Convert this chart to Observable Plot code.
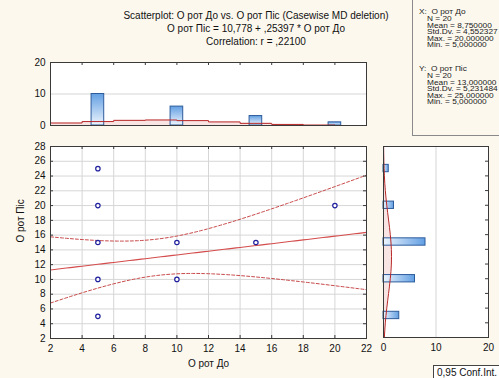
<!DOCTYPE html>
<html><head><meta charset="utf-8">
<script src="https://cdn.jsdelivr.net/npm/d3@7"></script>
<script src="https://cdn.jsdelivr.net/npm/@observablehq/plot@0.6"></script>
<style>
html,body{margin:0;padding:0;background:#fcf8ee;}
#root{position:relative;width:499px;height:378px;overflow:hidden;font-family:"Liberation Sans",Arial,sans-serif;background:#fcf8ee;color:#111;}
.abs{position:absolute;}
#title{left:0;top:9px;width:512px;text-align:center;font-size:10px;line-height:13px;}
#statsBox{left:412px;top:-1px;width:100px;height:137px;border:1px solid #8a8a8a;box-sizing:border-box;}
.stats{position:absolute;left:419px;font-size:8.3px;line-height:8.4px;transform:scaleY(0.78);transform-origin:0 0;white-space:nowrap;color:#222;}
.stats .ind{padding-left:8px;}
#ci{left:433px;top:365px;width:80px;height:20px;border:1px solid #444;box-sizing:border-box;background:#fff;font-size:10px;padding:1px 0 0 3px;white-space:nowrap;}
</style></head><body><div id="root">
<div id="title" class="abs"></div>
<div id="statsBox" class="abs"></div>
<div id="statsX" class="stats" style="top:9px"></div>
<div id="statsY" class="stats" style="top:66px"></div>
<div id="ci" class="abs"></div>
</div>
<script>
// ---- data (20 observations) ----
const obsX = [5,5,5,5,5,5,5,5,5,5,10,10,10,10,10,10,15,15,15,20];
const obsY = [25,20,15,15,15,15,10,5,5,5,15,10,10,10,10,10,15,15,15,20];
const xTicks = [2,4,6,8,10,12,14,16,18,20,22];
const yTicks = [2,4,6,8,10,12,14,16,18,20,22,24,26,28];
const countTicks = [0,10,20];
const xLabel = "О рот До";
const yLabel = "О рот Піс";
const titleLines = [
  "Scatterplot: О рот До vs. О рот Піс (Casewise MD deletion)",
  "О рот Піс = 10,778 + ,25397 * О рот До",
  "Correlation: r = ,22100"
];
const statsXLines = ["X:&nbsp; О рот До","N = 20","Mean = 8,750000","Std.Dv. = 4,552327","Max. = 20,000000","Min. = 5,000000"];
const statsYLines = ["Y:&nbsp; О рот Піс","N = 20","Mean = 13,000000","Std.Dv. = 5,231484","Max. = 25,000000","Min. = 5,000000"];
const ciLabel = "0,95 Conf.Int.";

// ---- text ----
document.getElementById("title").innerHTML = titleLines.map(t => `<div>${t}</div>`).join("");
document.getElementById("statsX").innerHTML = statsXLines.map((t,i) => `<div class="${i? 'ind':''}">${t}</div>`).join("");
document.getElementById("statsY").innerHTML = statsYLines.map((t,i) => `<div class="${i? 'ind':''}">${t}</div>`).join("");
document.getElementById("ci").textContent = ciLabel;

// ---- statistics derived from the data ----
const n = obsX.length;
const mx = d3.mean(obsX), my = d3.mean(obsY);
const sdx = d3.deviation(obsX), sdy = d3.deviation(obsY);
const sxx = d3.sum(obsX, v => (v - mx) ** 2);
const sxy = d3.sum(obsX, (v, i) => (v - mx) * (obsY[i] - my));
const slope = sxy / sxx, intercept = my - slope * mx;
const sres = Math.sqrt(d3.sum(obsX, (v, i) => (obsY[i] - intercept - slope * v) ** 2) / (n - 2));
const tcrit = 2.100922; // t(0.975, 18)
const band = d3.range(2, 22.001, 0.25).map(x => {
  const fit = intercept + slope * x;
  const se = sres * Math.sqrt(1 / n + (x - mx) ** 2 / sxx);
  return {x, fit, lo: fit - tcrit * se, hi: fit + tcrit * se};
});
// unique positions (overlapping observations draw as one marker)
const points = d3.groups(obsX.map((x, i) => ({x, y: obsY[i]})), d => d.x + "|" + d.y).map(([, g]) => g[0]);
const histX = d3.rollups(obsX, v => v.length, d => d).map(([v, c]) => ({v, c}));
const histY = d3.rollups(obsY, v => v.length, d => d).map(([v, c]) => ({v, c}));
const pdf = (v, m, s) => Math.exp(-0.5 * ((v - m) / s) ** 2) / (s * Math.sqrt(2 * Math.PI));
const normX = d3.range(2, 20.001, 2).map(e => ({v: e, c: n * pdf(e < 20 ? e + 1 : 19, mx, sdx)}));
const normY = d3.range(2, 28.001, 1).map(v => ({v, c: n * pdf(v, my, sdy)}));

const font = {fontFamily: "Liberation Sans, Arial, sans-serif", fontSize: "10px", background: "transparent", color: "#111", overflow: "visible"};
const gridC = "#d6d6d6", frameC = "#3a3a3a";

function addGrad(svg, id, horizontal) {
  const ns = "http://www.w3.org/2000/svg";
  const defs = document.createElementNS(ns, "defs");
  const g = document.createElementNS(ns, "linearGradient");
  g.setAttribute("id", id);
  g.setAttribute("x1", 0); g.setAttribute("y1", horizontal ? 0 : 1);
  g.setAttribute("x2", horizontal ? 1 : 0); g.setAttribute("y2", 0);
  [["0", "#eef5fd"], ["1", "#629fe3"]].forEach(([o, c]) => {
    const s = document.createElementNS(ns, "stop");
    s.setAttribute("offset", o); s.setAttribute("stop-color", c); g.appendChild(s);
  });
  defs.appendChild(g); svg.insertBefore(defs, svg.firstChild);
}

// ---- main scatter ----
const W = 380, H = 248, ML = 50, MR = 14, MT = 16, MB = 40;
const pxX = (W - ML - MR) / 20, pxY = (H - MT - MB) / 26;
const tx = 3 / pxX, ty = 3 / pxY;
const mainPlot = Plot.plot({
  width: W, height: H, marginLeft: ML, marginRight: MR, marginTop: MT, marginBottom: MB,
  style: font,
  x: {domain: [2, 22], axis: null}, y: {domain: [2, 28], axis: null},
  marks: [
    Plot.frame({fill: "white"}),
    Plot.gridX(xTicks.slice(1, -1), {stroke: gridC, strokeOpacity: 1}),
    Plot.gridY(yTicks.slice(1, -1), {stroke: gridC, strokeOpacity: 1}),
    Plot.line(band, {x: "x", y: "hi", stroke: "#c84a4a", strokeWidth: 1, strokeDasharray: "3,2"}),
    Plot.line(band, {x: "x", y: "lo", stroke: "#c84a4a", strokeWidth: 1, strokeDasharray: "3,2"}),
    Plot.line(band, {x: "x", y: "fit", stroke: "#d44c4c", strokeWidth: 1.1}),
    Plot.dot(points, {x: "x", y: "y", r: 2.2, stroke: "#1f1f9e", fill: "white", strokeWidth: 1.2}),
    Plot.ruleX(xTicks, {x: d => d, y1: 28 - ty, y2: 28, stroke: frameC}),
    Plot.ruleX(xTicks, {x: d => d, y1: 2, y2: 2 + ty, stroke: frameC}),
    Plot.ruleY(yTicks, {y: d => d, x1: 22 - tx, x2: 22, stroke: frameC}),
    Plot.ruleY(yTicks, {y: d => d, x1: 2, x2: 2 + tx, stroke: frameC}),
    Plot.axisX({ticks: xTicks, tickSize: 0, tickPadding: 6, label: null}),
    Plot.axisY({ticks: yTicks, tickSize: 0, tickPadding: 5, label: null}),
    Plot.text([xLabel], {text: d => d, frameAnchor: "bottom", dy: 28, fontSize: 10}),
    Plot.text([yLabel], {text: d => d, frameAnchor: "left", dx: -30, rotate: -90, fontSize: 10}),
    Plot.frame({stroke: frameC})
  ]
});
mainPlot.style.position = "absolute"; mainPlot.style.left = "0px"; mainPlot.style.top = "130px";

// ---- top histogram ----
const topHist = Plot.plot({
  width: W, height: 85, marginLeft: ML, marginRight: MR, marginTop: 12, marginBottom: 10,
  style: font,
  x: {domain: [2, 22], axis: null}, y: {domain: [0, 20], axis: null},
  marks: [
    Plot.frame({fill: "white"}),
    Plot.gridY([10], {stroke: gridC, strokeOpacity: 1}),
    Plot.areaY(normX, {x: "v", y: "c", fill: "#f3c9c9", fillOpacity: 0.5, curve: "step-after"}),
    Plot.rectY(histX, {x1: d => d.v - 0.4, x2: d => d.v + 0.4, y1: 0, y2: "c", fill: "url(#gTop)", stroke: "#2d5c9c", strokeWidth: 1}),
    Plot.line(normX, {x: "v", y: "c", stroke: "#b82626", strokeWidth: 1, curve: "step-after"}),
    Plot.ruleX(xTicks, {x: d => d, y1: 20 - 3 / (63 / 20), y2: 20, stroke: frameC}),
    Plot.axisY({ticks: countTicks, tickSize: 0, tickPadding: 5, label: null}),
    Plot.frame({stroke: frameC})
  ]
});
addGrad(topHist, "gTop", false);
topHist.style.position = "absolute"; topHist.style.left = "0px"; topHist.style.top = "50px";

// ---- right histogram ----
const rightHist = Plot.plot({
  width: 129, height: H, marginLeft: 13, marginRight: 11, marginTop: MT, marginBottom: MB + 1,
  style: font,
  x: {domain: [0, 20], axis: null}, y: {domain: [2, 28], axis: null},
  marks: [
    Plot.frame({fill: "white"}),
    Plot.gridX([10], {stroke: gridC, strokeOpacity: 1}),
    Plot.areaX(normY, {y: "v", x: "c", fill: "#f3c9c9", fillOpacity: 0.5}),
    Plot.rectX(histY, {y1: d => d.v - 0.5, y2: d => d.v + 0.5, x1: 0, x2: "c", fill: "url(#gRight)", stroke: "#2d5c9c", strokeWidth: 1}),
    Plot.line(normY, {x: "c", y: "v", stroke: "#b82626", strokeWidth: 1}),
    Plot.ruleY(yTicks, {y: d => d, x1: 20 - 3 / (105 / 20), x2: 20, stroke: frameC}),
    Plot.axisX({ticks: countTicks, tickSize: 0, tickPadding: 6, label: null}),
    Plot.frame({stroke: frameC})
  ]
});
addGrad(rightHist, "gRight", true);
rightHist.style.position = "absolute"; rightHist.style.left = "370px"; rightHist.style.top = "130px";

const root = document.getElementById("root");
root.appendChild(topHist); root.appendChild(mainPlot); root.appendChild(rightHist);
</script>
</body></html>
